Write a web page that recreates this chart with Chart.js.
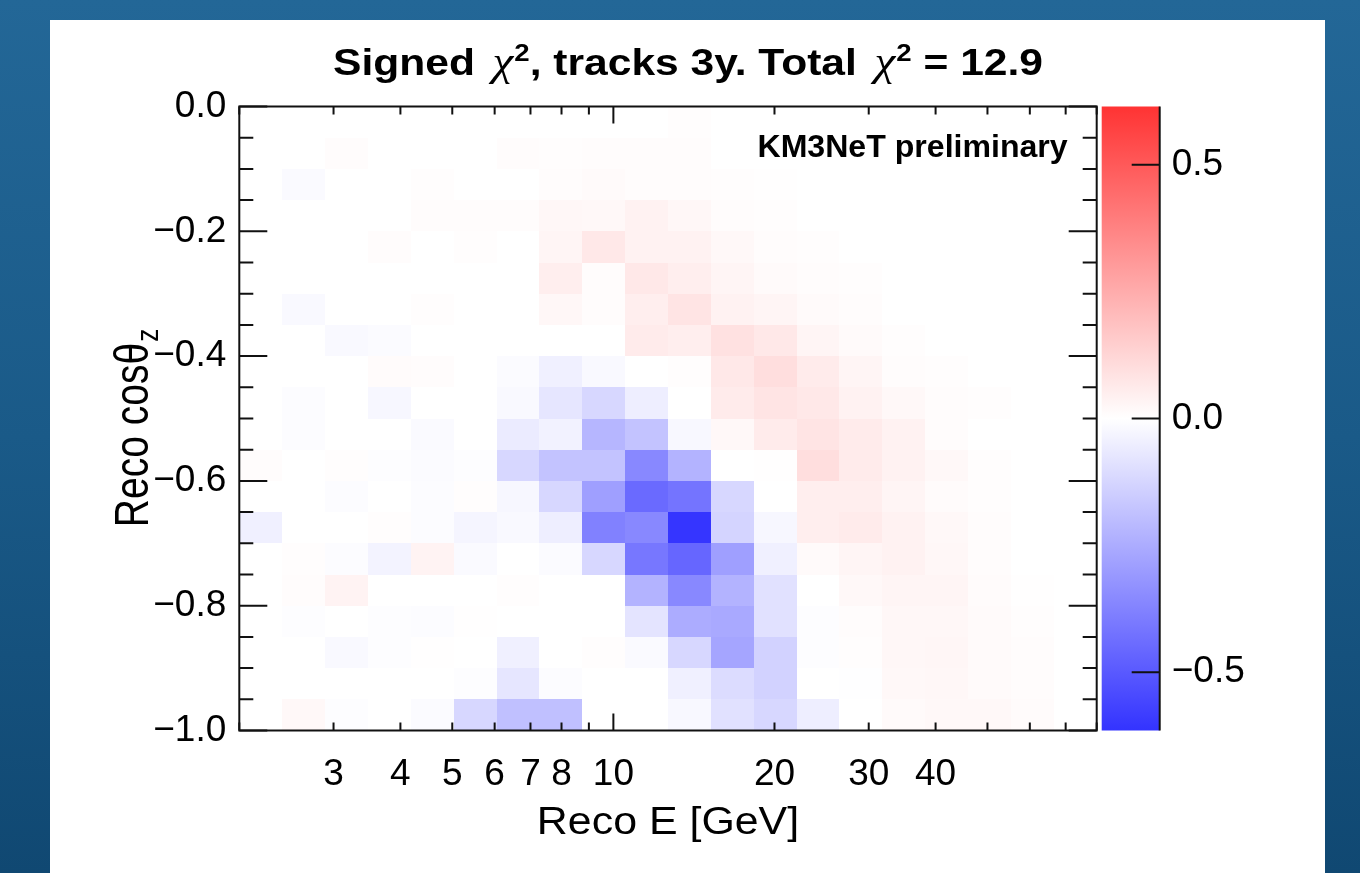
<!DOCTYPE html>
<html lang="en">
<head>
  <meta charset="UTF-8">
  <meta name="viewport" content="width=device-width, initial-scale=1.0">
  <title>Signed chi2, tracks 3y</title>
  <style>
    html, body { margin: 0; padding: 0; }
    body {
      width: 1360px;
      height: 873px;
      overflow: hidden;
      position: relative;
      background: linear-gradient(to bottom, #236797 0%, #1a5a88 50%, #104872 100%);
    }
    #panel {
      position: absolute;
      left: 50px; top: 20px;
      width: 1275px; height: 853px;
      background: #fff;
    }
    #wrap {
      position: absolute;
      left: 0; top: 0;
      width: 1360px; height: 873px;
    }
  </style>
</head>
<body>

  <div id="panel"></div>
  <div id="wrap">
    <canvas id="map" role="img" aria-label="Signed chi2 map in reco energy and reco cos theta_z for tracks"></canvas>
  </div>

  <script src="https://cdn.jsdelivr.net/npm/chart.js@4.4.1/dist/chart.umd.min.js"></script>
  <script>
    // binning: 20 log bins in Reco E, 20 bins in Reco cos(theta_z)
    const E_MIN = 2, E_MAX = 80, N_E = 20;
    const COS_MIN = -1, COS_MAX = 0, N_COS = 20;
    const Z_RANGE = 0.615;   // symmetric colour range of the map

    // x axis ticks
    const energyTicks = [2, 3, 4, 5, 6, 7, 8, 9, 10, 20, 30, 40, 50, 60, 70, 80];
    const energyLabels = ['3', '4', '5', '6', '7', '8', '10', '20', '30', '40'];
    const energyMajor = [10];

    // y axis ticks (labels every 0.2)
    const cosLabelValues = [0, -0.2, -0.4, -0.6, -0.8, -1];
    const cosLabels = ['0.0', '\u22120.2', '\u22120.4', '\u22120.6', '\u22120.8', '\u22121.0'];

    // colour bar ticks
    const zTicks = [0.5, 0, -0.5];
    const zLabels = ['0.5', '0.0', '\u22120.5'];

    // signed chi2 per bin; first row is cos = 0 .. -0.05, each row runs from E = 2 GeV upwards
    const signedChi2 = [
      [0, 0, 0, 0, 0, 0, 0, 0, 0, 0, 0.006, 0, 0, 0, 0, 0, 0, 0, 0, 0],
      [0, 0, 0.01, 0, 0, 0, 0.008, 0.006, 0.008, 0.01, 0.01, 0, 0, 0, 0, 0, 0, 0, 0, 0],
      [0, -0.015, 0, 0, 0.006, 0, 0, 0.008, 0.016, 0.01, 0.01, 0.006, 0.004, 0, 0, 0, 0, 0, 0, 0],
      [0, 0, 0, 0, 0.008, 0.008, 0.008, 0.024, 0.02, 0.04, 0.024, 0.01, 0.006, 0, 0, 0, 0, 0, 0, 0],
      [0, 0, 0, 0.008, 0, 0.006, 0, 0.03, 0.07, 0.04, 0.04, 0.02, 0.01, 0.006, 0, 0, 0, 0, 0, 0],
      [0, 0, 0, 0, 0, 0, 0, 0.05, 0.01, 0.07, 0.05, 0.03, 0.016, 0.01, 0.006, 0, 0, 0, 0, 0],
      [0, -0.018, 0, 0, 0.006, 0, 0, 0.024, 0.008, 0.05, 0.08, 0.04, 0.03, 0.016, 0.008, 0, 0, 0, 0, 0],
      [0, 0, -0.018, -0.012, 0, 0, 0, 0, 0, 0.06, 0.05, 0.09, 0.07, 0.03, 0.016, 0.006, 0, 0, 0, 0],
      [0, 0, 0, 0.012, 0.008, 0, -0.012, -0.045, -0.018, 0, 0.006, 0.07, 0.1, 0.06, 0.03, 0.01, 0.006, 0, 0, 0],
      [0, -0.01, 0, -0.025, 0, 0, -0.018, -0.075, -0.12, -0.05, 0, 0.06, 0.08, 0.07, 0.04, 0.02, 0.01, 0.006, 0, 0],
      [0, -0.01, 0, 0, -0.015, 0, -0.06, -0.04, -0.22, -0.18, -0.02, 0.02, 0.06, 0.08, 0.06, 0.04, 0.01, 0, 0, 0],
      [0.008, 0, 0.006, -0.006, -0.012, -0.006, -0.12, -0.18, -0.18, -0.36, -0.23, 0, 0.004, 0.1, 0.06, 0.04, 0.02, 0.006, 0, 0],
      [0, 0, -0.01, 0, -0.01, 0.006, -0.025, -0.12, -0.29, -0.45, -0.42, -0.12, 0, 0.05, 0.05, 0.03, 0.012, 0.006, 0, 0],
      [-0.045, 0, 0, 0.006, -0.01, -0.03, -0.018, -0.05, -0.38, -0.36, -0.61, -0.13, -0.025, 0.05, 0.06, 0.04, 0.02, 0.008, 0, 0],
      [0, 0.006, -0.008, -0.035, 0.035, -0.015, 0, -0.012, -0.12, -0.41, -0.46, -0.29, -0.045, 0.016, 0.03, 0.04, 0.024, 0.008, 0, 0],
      [0, 0.008, 0.035, 0, 0, 0, 0.006, 0, 0, -0.23, -0.36, -0.23, -0.09, 0, 0.02, 0.03, 0.03, 0.012, 0.004, 0],
      [0, -0.006, 0, -0.006, -0.008, 0.004, 0, 0, 0, -0.08, -0.25, -0.26, -0.09, -0.006, 0.01, 0.024, 0.024, 0.016, 0.006, 0],
      [0, 0, -0.018, -0.006, 0.004, 0, -0.045, 0, 0.006, -0.015, -0.12, -0.27, -0.135, -0.006, 0.006, 0.024, 0.028, 0.016, 0.008, 0],
      [0, 0, 0, 0, 0, -0.006, -0.075, -0.008, 0, 0, -0.045, -0.105, -0.135, 0, -0.004, 0.02, 0.024, 0.014, 0.008, 0],
      [0, 0.02, -0.006, 0, -0.012, -0.12, -0.19, -0.19, 0, 0, -0.02, -0.09, -0.12, -0.05, 0, 0.016, 0.02, 0.02, 0.012, 0]
    ];

    const eEdges = [];
    for (let j = 0; j <= N_E; j++) eEdges.push(E_MIN * Math.pow(E_MAX / E_MIN, j / N_E));
    const cosEdges = [];
    for (let i = 0; i <= N_COS; i++) cosEdges.push(COS_MAX - i * (COS_MAX - COS_MIN) / N_COS);
    const cosTicks = cosEdges.slice();

    const cells = [];
    signedChi2.forEach((row, i) => row.forEach((v, j) => {
      cells.push({
        x: Math.sqrt(eEdges[j] * eEdges[j + 1]),
        y: (cosEdges[i] + cosEdges[i + 1]) / 2,
        v, i, j
      });
    }));

    // blue-white-red, 80% opaque over white
    function cellColour(v) {
      const t = Math.min(Math.abs(v) / Z_RANGE, 1) * 0.8;
      const c = Math.round(255 * (1 - t));
      return v >= 0 ? `rgb(255,${c},${c})` : `rgb(${c},${c},255)`;
    }

    const FONT = '"Liberation Sans", Arial, sans-serif';
    const INK = '#111';

    const heatmap = {
      id: 'heatmap',
      beforeDatasetsDraw(chart) {
        const { ctx, scales: { x, y } } = chart;
        ctx.save();
        chart.data.datasets[0].data.forEach(d => {
          const x0 = Math.round(x.getPixelForValue(eEdges[d.j]));
          const x1 = Math.round(x.getPixelForValue(eEdges[d.j + 1]));
          const y0 = Math.round(y.getPixelForValue(cosEdges[d.i]));
          const y1 = Math.round(y.getPixelForValue(cosEdges[d.i + 1]));
          ctx.fillStyle = cellColour(d.v);
          ctx.fillRect(x0, y0, x1 - x0, y1 - y0);
        });
        ctx.restore();
      }
    };

    // text in several fonts on one baseline, stretched horizontally by sx
    function drawRich(ctx, parts, x, baseline, sx, align) {
      let w = 0;
      parts.forEach(p => {
        ctx.font = p.font;
        p.w = ctx.measureText(p.text).width + (p.pad || 0);
        w += p.w;
      });
      const start = align === 'right' ? x - w * sx : x - w * sx / 2;
      ctx.save();
      ctx.translate(start, baseline);
      ctx.scale(sx, 1);
      ctx.textAlign = 'left';
      ctx.textBaseline = 'alphabetic';
      let cx = 0;
      parts.forEach(p => {
        ctx.font = p.font;
        ctx.fillText(p.text, cx + (p.pad || 0), p.dy || 0);
        cx += p.w;
      });
      ctx.restore();
    }

    const decorations = {
      id: 'decorations',
      afterDraw(chart) {
        const { ctx, chartArea: a, scales: { x, y, z } } = chart;
        ctx.save();

        // colour bar
        const cbL = a.right + 5, cbR = a.right + 63;
        const top = z.getPixelForValue(Z_RANGE), bot = z.getPixelForValue(-Z_RANGE);
        const g = ctx.createLinearGradient(0, top, 0, bot);
        g.addColorStop(0, cellColour(Z_RANGE));
        g.addColorStop(0.5, '#fff');
        g.addColorStop(1, cellColour(-Z_RANGE));
        ctx.fillStyle = g;
        ctx.fillRect(cbL, top, cbR - cbL, bot - top);

        ctx.strokeStyle = INK;
        ctx.lineWidth = 2;
        ctx.beginPath();
        ctx.moveTo(cbR, top); ctx.lineTo(cbR, bot);
        zTicks.forEach(v => {
          const py = z.getPixelForValue(v);
          ctx.moveTo(cbR, py); ctx.lineTo(cbR - 28, py);
        });

        // x ticks, top and bottom, pointing inwards
        x.ticks.forEach(t => {
          const px = x.getPixelForValue(t.value);
          const len = energyMajor.includes(t.value) ? 17 : 8;
          ctx.moveTo(px, a.bottom); ctx.lineTo(px, a.bottom - len);
          ctx.moveTo(px, a.top); ctx.lineTo(px, a.top + len);
        });
        // y ticks, left and right
        y.ticks.forEach(t => {
          const py = y.getPixelForValue(t.value);
          const major = cosLabelValues.some(l => Math.abs(l - t.value) < 1e-6);
          const len = major ? 28 : 14;
          ctx.moveTo(a.left, py); ctx.lineTo(a.left + len, py);
          ctx.moveTo(a.right, py); ctx.lineTo(a.right - len, py);
        });
        ctx.stroke();
        ctx.strokeRect(a.left, a.top, a.right - a.left, a.bottom - a.top);

        ctx.fillStyle = '#000';

        // title
        const bold = 'bold 37px ' + FONT;
        const chi = 'italic 41px "Liberation Serif", serif';
        const sup = 'bold 24px ' + FONT;
        drawRich(ctx, [
          { text: 'Signed ', font: bold },
          { text: '\u03c7', font: chi, pad: 5 },
          { text: '2', font: sup, dy: -14, pad: 1 },
          { text: ', tracks 3y. Total ', font: bold },
          { text: '\u03c7', font: chi, pad: 5 },
          { text: '2', font: sup, dy: -14, pad: 1 },
          { text: ' = 12.9', font: bold }
        ], 688, 75, 1.15, 'center');

        // label inside the frame
        drawRich(ctx, [{ text: 'KM3NeT preliminary', font: 'bold 31px ' + FONT }],
          a.right - 29, 157, 1.035, 'right');

        // x axis title
        drawRich(ctx, [{ text: 'Reco E [GeV]', font: '39px ' + FONT }],
          (a.left + a.right) / 2, 834, 1.1, 'center');

        // y axis title, rotated
        ctx.save();
        ctx.translate(148, 428);
        ctx.rotate(-Math.PI / 2);
        ctx.scale(1, 1.22);
        drawRich(ctx, [
          { text: 'Reco cos\u03b8', font: '39px ' + FONT },
          { text: 'z', font: '26px ' + FONT, dy: 8, pad: 1 }
        ], 0, 0, 1, 'center');
        ctx.restore();

        ctx.restore();
      }
    };

    const tickFont = { family: FONT, size: 37 };

    new Chart(document.getElementById('map'), {
      type: 'scatter',
      data: {
        datasets: [{
          data: cells,
          pointRadius: 0,
          pointHoverRadius: 0,
          xAxisID: 'x',
          yAxisID: 'y'
        }]
      },
      options: {
        responsive: true,
        maintainAspectRatio: false,
        animation: false,
        devicePixelRatio: 1,
        events: [],
        layout: { padding: { top: 106.5, left: 0, right: 0, bottom: 0 } },
        plugins: {
          legend: { display: false },
          tooltip: { enabled: false },
          title: { display: false }
        },
        scales: {
          x: {
            type: 'logarithmic',
            position: 'bottom',
            min: E_MIN,
            max: E_MAX,
            grid: { display: false, drawTicks: false },
            border: { display: false },
            afterBuildTicks: s => { s.ticks = energyTicks.map(v => ({ value: v })); },
            afterFit: s => { s.height = 873 - 730.5; },
            ticks: {
              autoSkip: false,
              maxRotation: 0,
              minRotation: 0,
              padding: 22,
              color: '#000',
              font: tickFont,
              callback: v => energyLabels.includes(String(v)) ? String(v) : ''
            }
          },
          y: {
            type: 'linear',
            position: 'left',
            min: COS_MIN,
            max: COS_MAX,
            grid: { display: false, drawTicks: false },
            border: { display: false },
            afterBuildTicks: s => { s.ticks = cosTicks.map(v => ({ value: v })); },
            afterFit: s => { s.width = 239.3; },
            ticks: {
              autoSkip: false,
              padding: 13,
              color: '#000',
              font: tickFont,
              callback: v => {
                const k = cosLabelValues.findIndex(l => Math.abs(l - v) < 1e-6);
                return k >= 0 ? cosLabels[k] : '';
              }
            }
          },
          z: {
            axis: 'y',
            type: 'linear',
            position: 'right',
            min: -Z_RANGE,
            max: Z_RANGE,
            grid: { display: false, drawTicks: false },
            border: { display: false },
            afterBuildTicks: s => { s.ticks = zTicks.map(v => ({ value: v })); },
            afterFit: s => { s.width = 1360 - 1096.7; },
            ticks: {
              autoSkip: false,
              padding: 75,
              color: '#000',
              font: tickFont,
              callback: v => {
                const k = zTicks.findIndex(t => Math.abs(t - v) < 1e-6);
                return k >= 0 ? zLabels[k] : '';
              }
            }
          }
        }
      },
      plugins: [heatmap, decorations]
    });
  </script>

</body>
</html>
